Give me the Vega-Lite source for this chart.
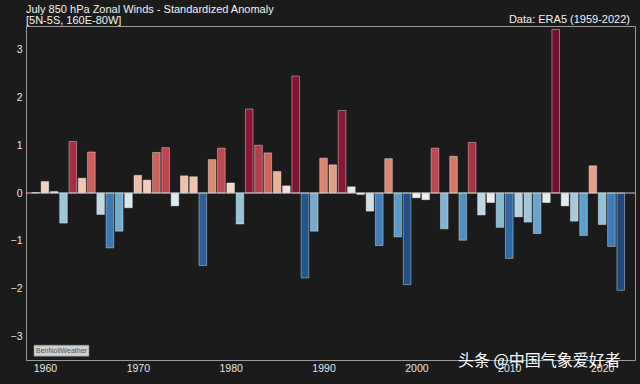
{
  "$schema": "https://vega.github.io/schema/vega-lite/v6.json",
  "width": 609,
  "height": 334,
  "autosize": {"type": "none"},
  "padding": {"left": 26, "top": 26, "right": 5, "bottom": 24},
  "background": "#1b1b1b",
  "config": {
    "view": {"stroke": "#9a9a9a", "strokeWidth": 1, "fill": "#1b1b1b"},
    "font": "Liberation Sans",
    "axis": {"grid": false, "domain": false, "ticks": false, "labelColor": "#e6e6e6", "labelFont": "Liberation Sans", "labelFontSize": 10.5}
  },
  "title": {
    "text": ["July 850 hPa Zonal Winds - Standardized Anomaly", "[5N-5S, 160E-80W]"],
    "anchor": "start",
    "frame": "group",
    "font": "Liberation Sans",
    "fontSize": 11,
    "fontWeight": "normal",
    "lineHeight": 11,
    "color": "#f2f2f2",
    "offset": 2,
    "dy": 14
  },
  "layer": [
    {
      "data": {"values": [
        {"year": 1959, "anom": 0.01}, {"year": 1960, "anom": 0.24}, {"year": 1961, "anom": 0.03}, {"year": 1962, "anom": -0.63},
        {"year": 1963, "anom": 1.08}, {"year": 1964, "anom": 0.31}, {"year": 1965, "anom": 0.86}, {"year": 1966, "anom": -0.45},
        {"year": 1967, "anom": -1.15}, {"year": 1968, "anom": -0.80}, {"year": 1969, "anom": -0.31}, {"year": 1970, "anom": 0.37},
        {"year": 1971, "anom": 0.27}, {"year": 1972, "anom": 0.85}, {"year": 1973, "anom": 0.95}, {"year": 1974, "anom": -0.27},
        {"year": 1975, "anom": 0.36}, {"year": 1976, "anom": 0.34}, {"year": 1977, "anom": -1.52}, {"year": 1978, "anom": 0.70},
        {"year": 1979, "anom": 0.94}, {"year": 1980, "anom": 0.21}, {"year": 1981, "anom": -0.65}, {"year": 1982, "anom": 1.76},
        {"year": 1983, "anom": 1.00}, {"year": 1984, "anom": 0.84}, {"year": 1985, "anom": 0.45}, {"year": 1986, "anom": 0.15},
        {"year": 1987, "anom": 2.45}, {"year": 1988, "anom": -1.78}, {"year": 1989, "anom": -0.80}, {"year": 1990, "anom": 0.73},
        {"year": 1991, "anom": 0.59}, {"year": 1992, "anom": 1.73}, {"year": 1993, "anom": 0.13}, {"year": 1994, "anom": -0.03},
        {"year": 1995, "anom": -0.38}, {"year": 1996, "anom": -1.10}, {"year": 1997, "anom": 0.72}, {"year": 1998, "anom": -0.92},
        {"year": 1999, "anom": -1.92}, {"year": 2000, "anom": -0.10}, {"year": 2001, "anom": -0.14}, {"year": 2002, "anom": 0.94},
        {"year": 2003, "anom": -0.75}, {"year": 2004, "anom": 0.77}, {"year": 2005, "anom": -0.99}, {"year": 2006, "anom": 1.06},
        {"year": 2007, "anom": -0.46}, {"year": 2008, "anom": -0.20}, {"year": 2009, "anom": -0.72}, {"year": 2010, "anom": -1.37},
        {"year": 2011, "anom": -0.50}, {"year": 2012, "anom": -0.61}, {"year": 2013, "anom": -0.85}, {"year": 2014, "anom": -0.20},
        {"year": 2015, "anom": 3.43}, {"year": 2016, "anom": -0.27}, {"year": 2017, "anom": -0.59}, {"year": 2018, "anom": -0.89},
        {"year": 2019, "anom": 0.57}, {"year": 2020, "anom": -0.66}, {"year": 2021, "anom": -1.12}, {"year": 2022, "anom": -2.04}
      ]},
      "mark": {"type": "bar", "width": 7.6, "stroke": "#ffffff", "strokeOpacity": 0.4, "strokeWidth": 1},
      "encoding": {
        "x": {"field": "year", "type": "quantitative", "scale": {"domain": [1958.5, 2023], "nice": false, "zero": false},
              "axis": {"values": [1960, 1970, 1980, 1990, 2000, 2010, 2020], "format": "d", "title": null, "labelPadding": 3}},
        "y": {"field": "anom", "type": "quantitative", "scale": {"domain": [-3.5, 3.5], "nice": false},
              "axis": {"values": [-3, -2, -1, 0, 1, 2, 3], "title": null, "labelPadding": 4}},
        "color": {"field": "anom", "type": "quantitative", "legend": null,
                  "scale": {"domain": [-2.04, -1.5, -1.15, -0.9, -0.63, -0.3, 0, 0.3, 0.7, 0.95, 1.1, 1.75, 3.43],
                            "range": ["#1e4a80", "#2a5f9e", "#3a78b6", "#5c9dca", "#9cc5dc", "#dce8f0", "#f7f7f7", "#f2c8b4", "#de8b73", "#c0444f", "#a72842", "#8a1536", "#75102f"]}}
      }
    },
    {
      "data": {"values": [{}]},
      "mark": {"type": "rule", "color": "#c8c8c8", "strokeWidth": 1},
      "encoding": {"y": {"datum": 0}}
    },
    {
      "data": {"values": [{}]},
      "mark": {"type": "text", "text": "Data: ERA5 (1959-2022)", "align": "right", "baseline": "alphabetic", "dy": -3, "fontSize": 11, "color": "#f2f2f2", "font": "Liberation Sans"},
      "encoding": {"x": {"datum": 2023}, "y": {"datum": 3.5}}
    },
    {
      "data": {"values": [{}]},
      "mark": {"type": "rect", "color": "#cfcfcf", "stroke": "#888888", "strokeWidth": 0.5},
      "encoding": {"x": {"datum": 1958.82}, "x2": {"datum": 1964.74}, "y": {"datum": -3.19}, "y2": {"datum": -3.42}}
    },
    {
      "data": {"values": [{}]},
      "mark": {"type": "text", "text": "BenNollWeather", "align": "center", "baseline": "middle", "fontSize": 7, "color": "#555555", "font": "Liberation Sans"},
      "encoding": {"x": {"datum": 1961.78}, "y": {"datum": -3.305}}
    },
    {
      "data": {"values": [{}]},
      "mark": {"type": "text", "text": "头条 @中国气象爱好者", "align": "right", "baseline": "middle", "fontSize": 16, "color": "#ffffff", "font": "Noto Sans CJK SC"},
      "encoding": {"x": {"datum": 2022}, "y": {"datum": -3.53}}
    }
  ]
}
